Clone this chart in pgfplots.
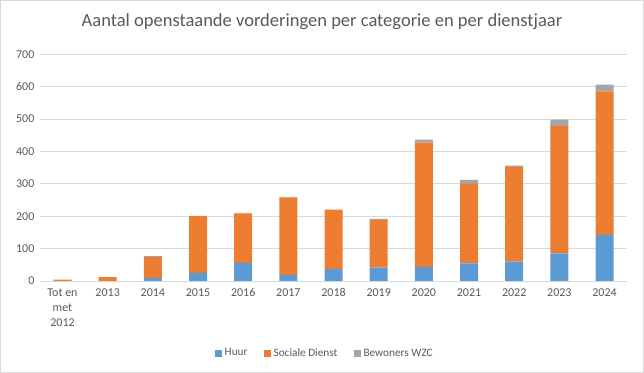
\documentclass[border=0pt]{standalone}
\usepackage{pgfplots}
\pgfplotsset{compat=1.18}
\usepackage{fontspec}
\setmainfont{Carlito}
\definecolor{huur}{HTML}{5B9BD5}
\definecolor{sd}{HTML}{ED7D31}
\definecolor{wzc}{HTML}{A5A5A5}
\definecolor{gridc}{HTML}{D9D9D9}
\definecolor{txt}{HTML}{595959}
\begin{document}
\begin{tikzpicture}[x=1pt,y=1pt]
\draw[draw=gridc,line width=0.8pt] (0.5,0.5) rectangle (643.5,372.5);
\node[text=txt,font=\fontsize{18.5}{20}\selectfont] at (322,351) {Aantal openstaande vorderingen per categorie en per dienstjaar};
\begin{axis}[
  at={(40pt,92pt)}, anchor=south west,
  scale only axis, width=587pt, height=226.7pt,
  ybar stacked, bar width=18pt,
  xmin=-0.5, xmax=12.5, ymin=0, ymax=700,
  ytick={0,100,...,700},
  xtick=data,
  xticklabels={{Tot en\\met\\2012},2013,2014,2015,2016,2017,2018,2019,2020,2021,2022,2023,2024},
  xticklabel style={align=center, text=txt, font=\fontsize{12}{15}\selectfont},
  yticklabel style={text=txt, font=\fontsize{12}{14}\selectfont},
  /pgf/number format/assume math mode=true,
  ymajorgrids, grid style={gridc, line width=0.8pt},
  axis line style={draw=none},
  major tick length=0pt,
  xticklabel shift=4pt, yticklabel shift=2pt,
  legend style={at={(0.485,-0.318)}, anchor=center, draw=none, legend columns=-1,
    font=\fontsize{11.3}{14}\selectfont, text=txt,
    /tikz/every odd column/.append style={column sep=1pt},
    /tikz/every even column/.append style={column sep=14pt}},
  legend image code/.code={\draw[#1,draw=none] (1pt,-3.5pt) rectangle (8pt,3.5pt);},
]
\addplot[fill=huur, draw=none] coordinates {(0,0) (1,0) (2,10) (3,25) (4,56) (5,19) (6,37) (7,41) (8,43) (9,54) (10,60) (11,85) (12,142)};
\addplot[fill=sd, draw=none] coordinates {(0,4) (1,12) (2,64) (3,176) (4,152) (5,238) (6,183) (7,148) (8,384) (9,246) (10,292) (11,394) (12,443)};
\addplot[fill=wzc, draw=none] coordinates {(0,0) (1,0) (2,3) (3,0) (4,2) (5,3) (6,0) (7,3) (8,9) (9,12) (10,4) (11,19) (12,21)};
\legend{Huur,Sociale Dienst,Bewoners WZC}
\end{axis}
\end{tikzpicture}
\end{document}
